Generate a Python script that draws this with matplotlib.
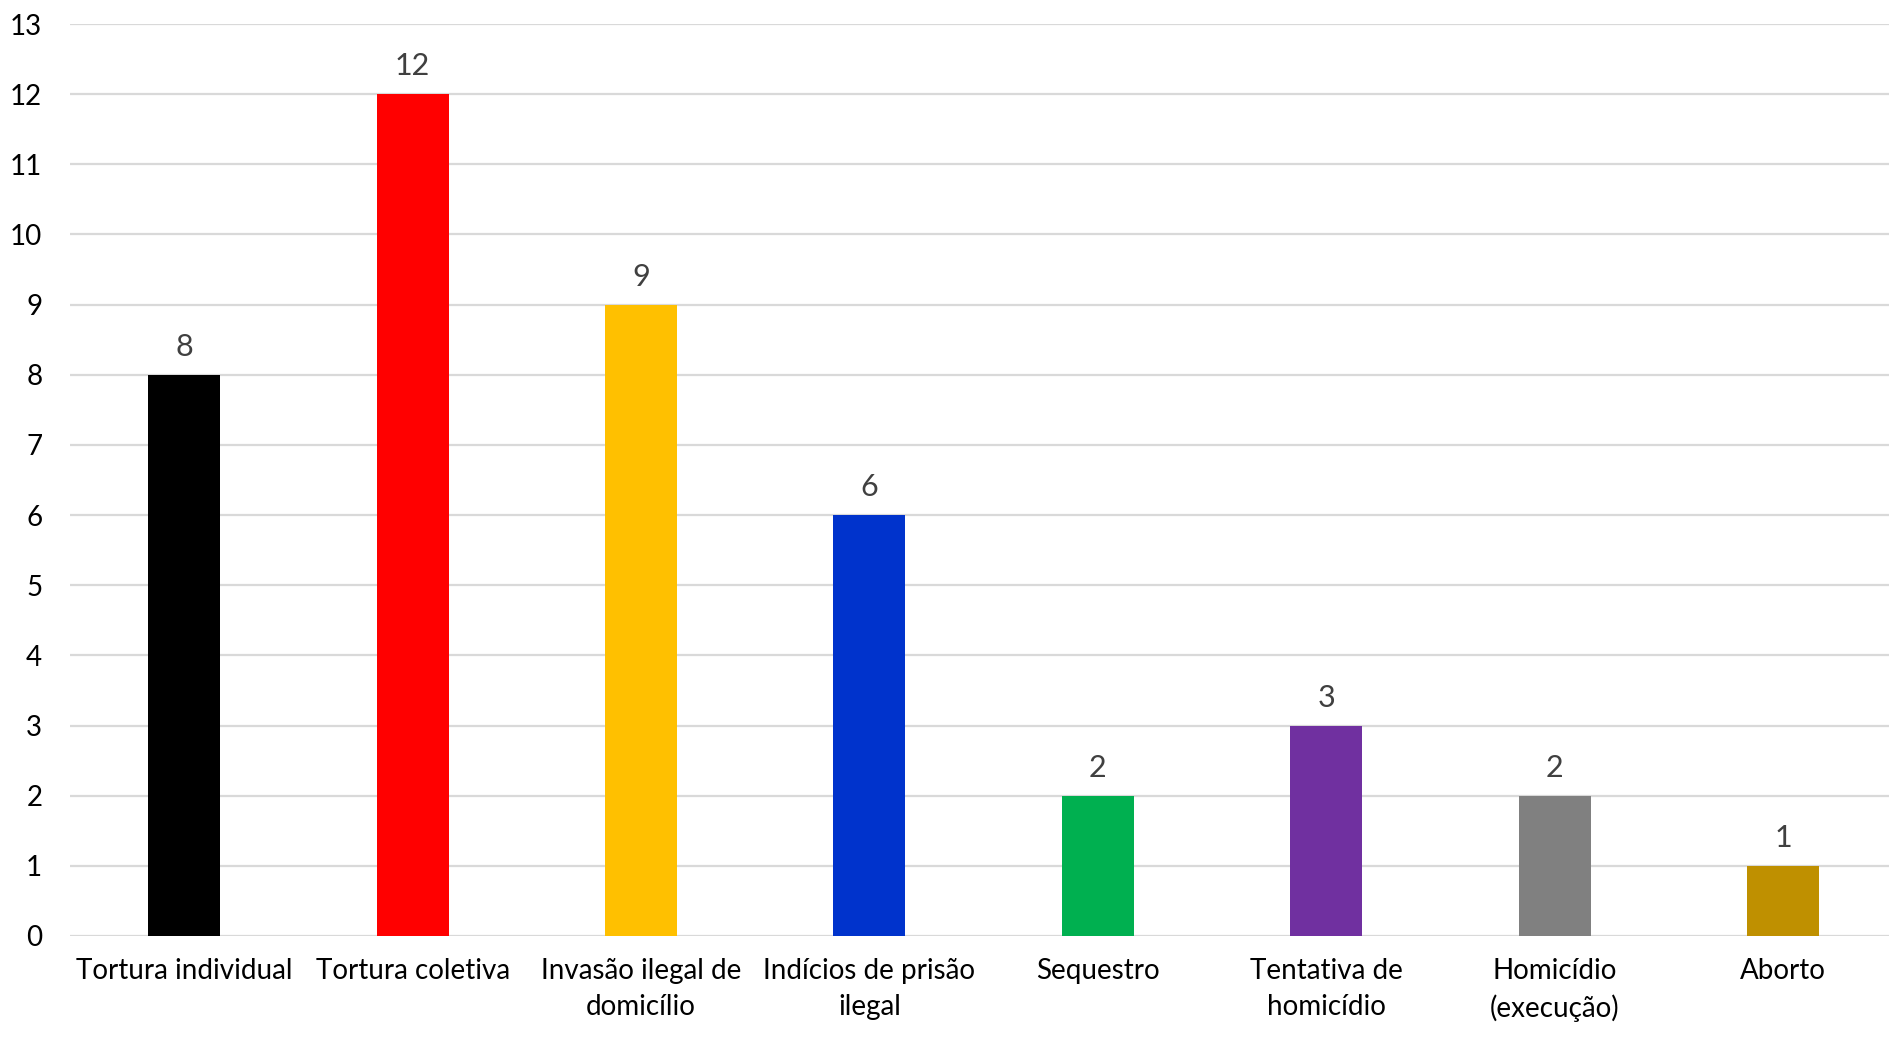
import matplotlib
matplotlib.use('Agg')
import matplotlib.pyplot as plt
import numpy as np

plt.rcParams['font.family'] = ['Lato', 'DejaVu Sans']

categorias = ['Tortura individual', 'Tortura coletiva', 'Invasão ilegal de\ndomicílio',
              'Indícios de prisão\nilegal', 'Sequestro', 'Tentativa de\nhomicídio',
              'Homicídio\n(execução)', 'Aborto']
valores = [8, 12, 9, 6, 2, 3, 2, 1]
cores = ['#000000', '#FF0000', '#FFC000', '#0033CC', '#00B050', '#7030A0', '#808080', '#BF9000']

fig = plt.figure(figsize=(18.89, 10.40), dpi=100)
ax = fig.add_axes([0.0371, 0.1, 0.9672, 0.8769])

x = np.arange(len(categorias))
ax.bar(x, valores, width=0.315, color=cores, zorder=3)

# rótulos de valor acima das barras
for xi, v in zip(x, valores):
    ax.annotate(str(v), (xi, v), xytext=(0, 10), textcoords='offset points',
                ha='center', va='bottom', fontsize=22, color='#404040')

ax.set_xlim(-0.5, len(categorias) - 0.5)
ax.set_ylim(0, 13)
ax.set_yticks(range(0, 14))
ax.set_xticks(x)
ax.set_xticklabels(categorias, fontsize=20, color='#000000', linespacing=1.45)
ax.tick_params(axis='y', labelsize=20, labelcolor='#000000', length=0, pad=20)
ax.tick_params(axis='x', length=0, pad=16)
ax.grid(axis='y', color='#D9D9D9', linewidth=1.6, zorder=0)
for s in ax.spines.values():
    s.set_visible(False)

fig.savefig('out.png', dpi=100)
